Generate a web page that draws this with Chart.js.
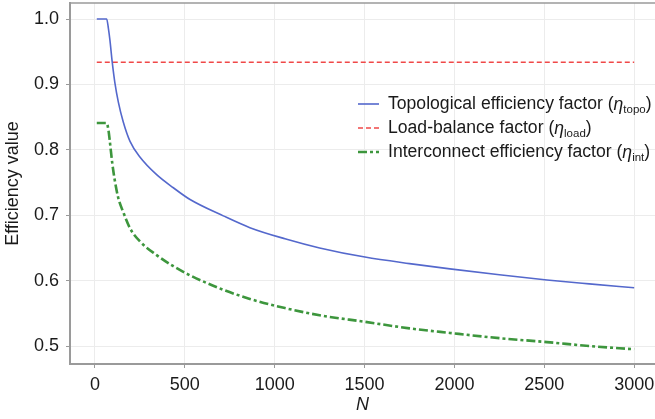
<!DOCTYPE html>
<html>
<head>
<meta charset="utf-8">
<script src="https://cdn.jsdelivr.net/npm/chart.js@4.4.1/dist/chart.umd.min.js"></script>
<style>
  body { margin: 0; background: #fff; }
</style>
</head>
<body>
<canvas id="effChart" width="655" height="419"></canvas>
<script>
// values
const nValues = [10, 65, 75, 83, 96, 111, 130, 157, 195, 250, 343, 436, 529, 714, 862, 1057, 1250, 1502, 1750, 1975, 2250, 2515, 2750, 3000];
const etaTopo = [1.0, 1.0, 0.985, 0.968, 0.934, 0.902, 0.873, 0.843, 0.813, 0.789, 0.762, 0.742, 0.724, 0.699, 0.681, 0.664, 0.65, 0.636, 0.626, 0.618, 0.609, 0.601, 0.595, 0.589];
const etaInt = [0.841, 0.841, 0.83, 0.812, 0.78, 0.752, 0.726, 0.705, 0.68, 0.66, 0.639, 0.622, 0.608, 0.586, 0.572, 0.558, 0.547, 0.537, 0.527, 0.52, 0.512, 0.506, 0.5, 0.495];
const nLoad = [10, 3000];
const etaLoad = [0.934, 0.934];

const xTicks = [0, 500, 1000, 1500, 2000, 2500, 3000];
const yTicks = [0.5, 0.6, 0.7, 0.8, 0.9, 1.0];

const legendText = ["Topological efficiency factor", "Load-balance factor", "Interconnect efficiency factor"];
const legendSub = ["topo", "load", "int"];

const FONT = '"Liberation Sans", Arial, sans-serif';

const toPoints = (xs, ys) => xs.map((x, i) => ({ x: x, y: ys[i] }));

// keep the plot area fixed, labels may hang over its edges
const noPadding = (scale) => {
  scale.paddingTop = 0;
  scale.paddingBottom = 0;
  scale.paddingLeft = 0;
  scale.paddingRight = 0;
};

// top frame line + legend with subscripts
const extras = {
  id: "extras",
  afterDraw(chart) {
    const { ctx, chartArea } = chart;
    ctx.save();
    ctx.strokeStyle = "#9a9a9a";
    ctx.lineWidth = 1.5;
    ctx.beginPath();
    ctx.moveTo(chartArea.left, chartArea.top);
    ctx.lineTo(chartArea.right, chartArea.top);
    ctx.stroke();

    const x0 = 358;
    const rows = [104, 128, 152];
    chart.data.datasets.forEach((ds, i) => {
      const y = rows[i];
      ctx.strokeStyle = ds.borderColor;
      ctx.lineWidth = ds.borderWidth;
      ctx.setLineDash(ds.borderDash || []);
      ctx.beginPath();
      ctx.moveTo(x0, y);
      ctx.lineTo(x0 + 21, y);
      ctx.stroke();
      ctx.setLineDash([]);

      ctx.fillStyle = "#1a1a1a";
      ctx.textBaseline = "middle";
      let tx = x0 + 30;
      ctx.font = "17.6px " + FONT;
      const main = legendText[i] + " (";
      ctx.fillText(main, tx, y);
      tx += ctx.measureText(main).width;
      ctx.font = "italic 17.6px " + FONT;
      ctx.fillText("η", tx, y + 1);
      tx += ctx.measureText("η").width;
      ctx.font = "11.5px " + FONT;
      ctx.fillText(legendSub[i], tx, y + 6);
      tx += ctx.measureText(legendSub[i]).width;
      ctx.font = "17.6px " + FONT;
      ctx.fillText(")", tx, y);
    });
    ctx.restore();
  },
};

const ctx = document.getElementById("effChart");
new Chart(ctx, {
  type: "line",
  data: {
    datasets: [
      {
        label: "topo",
        data: toPoints(nValues, etaTopo),
        borderColor: "#5468cc",
        borderWidth: 1.6,
        pointRadius: 0,
        cubicInterpolationMode: "monotone",
      },
      {
        label: "load",
        data: toPoints(nLoad, etaLoad),
        borderColor: "#f04848",
        borderWidth: 1.6,
        borderDash: [5, 3],
        pointRadius: 0,
      },
      {
        label: "int",
        data: toPoints(nValues, etaInt),
        borderColor: "#3d963d",
        borderWidth: 2.6,
        borderDash: [9, 3, 3, 3],
        pointRadius: 0,
        cubicInterpolationMode: "monotone",
      },
    ],
  },
  options: {
    responsive: false,
    animation: false,
    layout: { padding: { top: 3, right: 0, left: 0, bottom: 0 } },
    plugins: {
      legend: { display: false },
      tooltip: { enabled: false },
    },
    scales: {
      x: {
        type: "linear",
        min: -139,
        max: 3116,
        afterBuildTicks: (scale) => {
          scale.ticks = xTicks.map((v) => ({ value: v }));
        },
        afterFit: (scale) => {
          scale.height = 55;
          noPadding(scale);
        },
        grid: { color: "#ececec", tickColor: "#9a9a9a", tickLength: 4 },
        border: { color: "#9a9a9a", width: 2 },
        ticks: {
          color: "#1a1a1a",
          font: { size: 18, family: FONT },
          padding: 6,
          maxRotation: 0,
          callback: (v) => String(v),
        },
        title: {
          display: true,
          text: "N",
          color: "#1a1a1a",
          font: { size: 18, style: "italic", family: FONT },
          padding: { top: 0, bottom: 3 },
        },
      },
      y: {
        min: 0.4725,
        max: 1.0245,
        afterBuildTicks: (scale) => {
          scale.ticks = yTicks.map((v) => ({ value: v }));
        },
        afterFit: (scale) => {
          scale.width = 70;
          noPadding(scale);
        },
        grid: { color: "#ececec", tickColor: "#9a9a9a", tickLength: 4 },
        border: { color: "#9a9a9a", width: 2 },
        ticks: {
          color: "#1a1a1a",
          font: { size: 18, family: FONT },
          padding: 7,
          callback: (v) => v.toFixed(1),
        },
        title: {
          display: true,
          text: "Efficiency value",
          color: "#1a1a1a",
          font: { size: 18, family: FONT },
          padding: { top: 2, bottom: 0 },
        },
      },
    },
  },
  plugins: [extras],
});
</script>
</body>
</html>
